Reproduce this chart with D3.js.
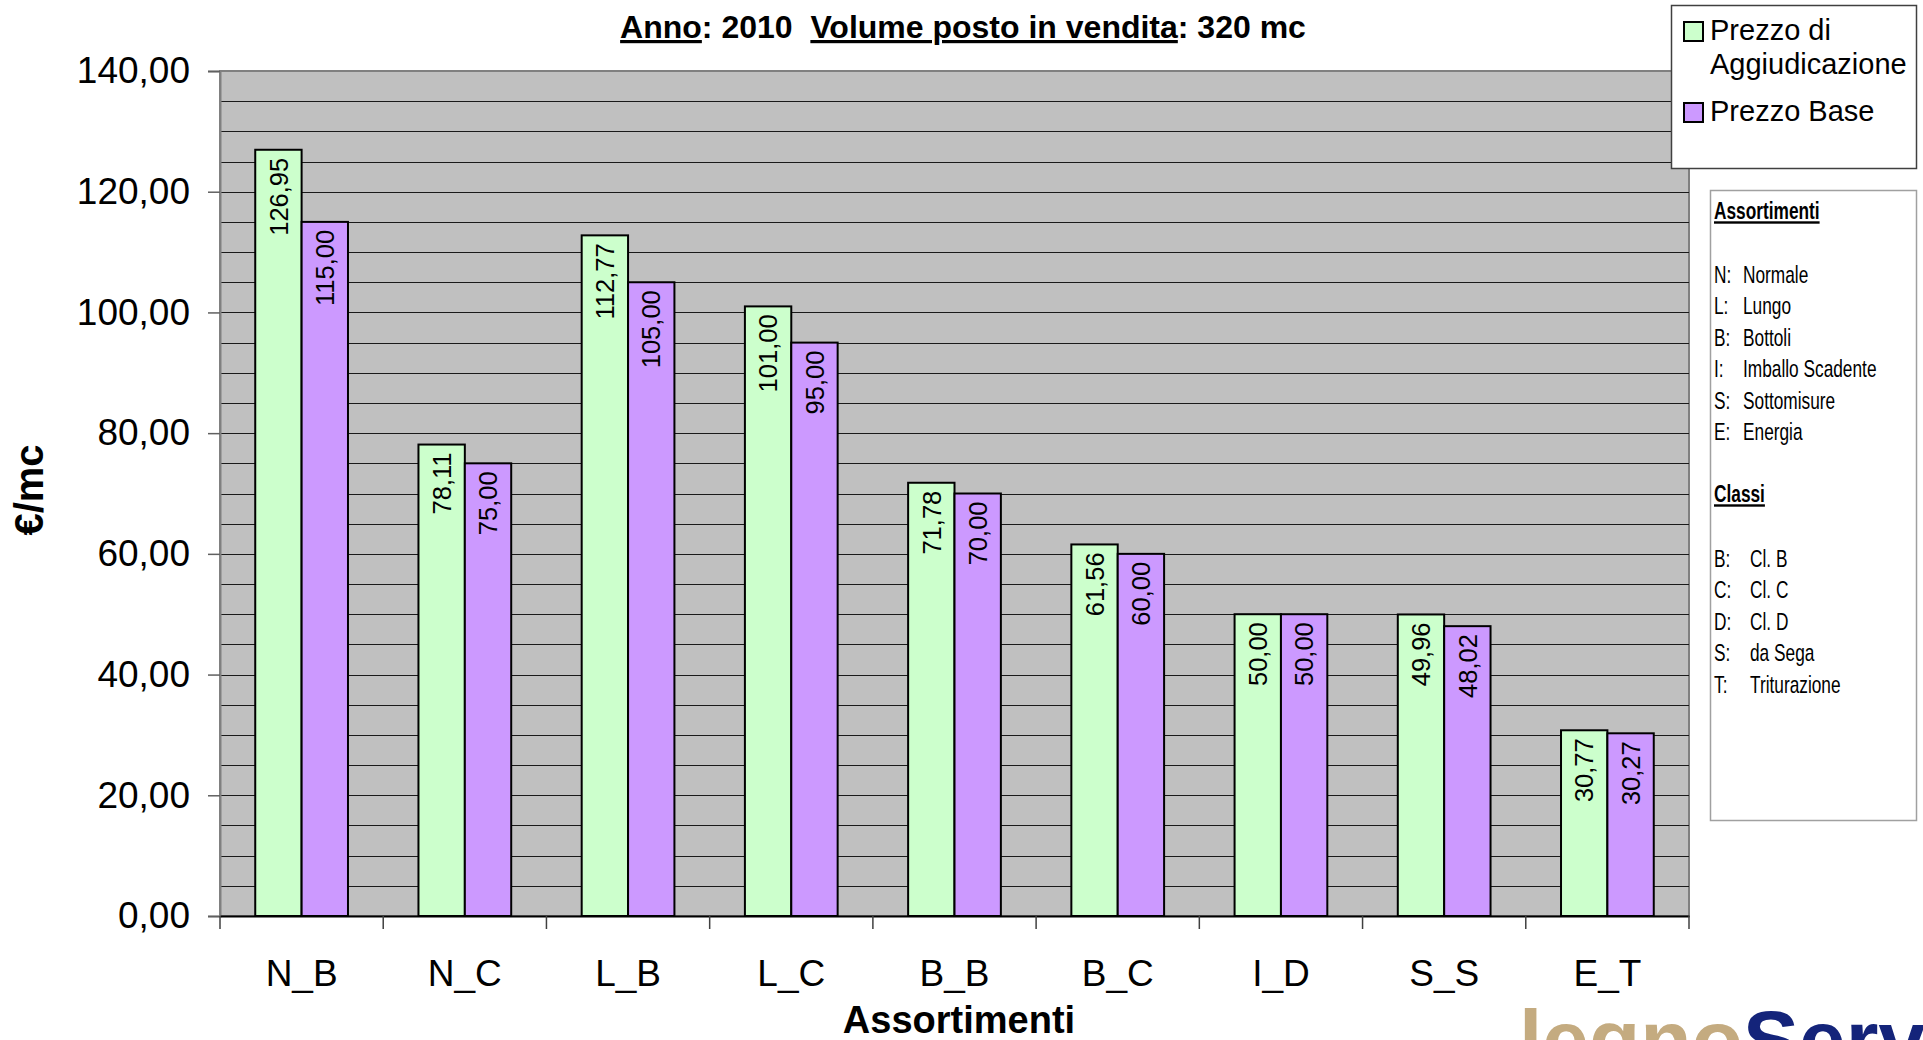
<!DOCTYPE html>
<html>
<head>
<meta charset="utf-8">
<script src="https://cdn.jsdelivr.net/npm/d3@7"></script>
<style>
  body { margin: 0; background: #fff; overflow: hidden; }
  svg { display: block; }
  text { font-family: "Liberation Sans", Arial, sans-serif; }
</style>
</head>
<body>
<div id="chart"></div>
<script>
// data
const categories = ['N_B', 'N_C', 'L_B', 'L_C', 'B_B', 'B_C', 'I_D', 'S_S', 'E_T'];
const seriesNames = ['Prezzo di Aggiudicazione', 'Prezzo Base'];
const prezzoAggiudicazione = [126.95, 78.11, 112.77, 101.00, 71.78, 61.56, 50.00, 49.96, 30.77];
const prezzoBase = [115.00, 75.00, 105.00, 95.00, 70.00, 60.00, 50.00, 48.02, 30.27];
const yTicks = [0, 20, 40, 60, 80, 100, 120, 140];
const assortimenti = [['N:', 'Normale'], ['L:', 'Lungo'], ['B:', 'Bottoli'], ['I:', 'Imballo Scadente'], ['S:', 'Sottomisure'], ['E:', 'Energia']];
const classi = [['B:', 'Cl. B'], ['C:', 'Cl. C'], ['D:', 'Cl. D'], ['S:', 'da Sega'], ['T:', 'Triturazione']];

const colors = ['#CCFFCC', '#CC99FF'];
const width = 1923, height = 1040;
const plot = { left: 220, right: 1689, top: 71, bottom: 916 };

const it = d3.formatLocale({ decimal: ',', thousands: '.', grouping: [3], currency: ['€', ''] });
const fmt = it.format('.2f');

const svg = d3.select('#chart').append('svg')
  .attr('width', width)
  .attr('height', height);

// scales
const x0 = d3.scaleBand()
  .domain(categories)
  .range([plot.left, plot.right]);
const x1 = d3.scaleBand()
  .domain(d3.range(seriesNames.length))
  .range([0, x0.bandwidth()])
  .paddingInner(0)
  .paddingOuter(0.76);
const y = d3.scaleLinear()
  .domain([0, 140])
  .range([plot.bottom, plot.top]);

// plot area
svg.append('rect')
  .attr('x', plot.left)
  .attr('y', plot.top)
  .attr('width', plot.right - plot.left)
  .attr('height', plot.bottom - plot.top)
  .attr('fill', '#C0C0C0')
  .attr('stroke', '#808080')
  .attr('stroke-width', 2);

// gridlines every 5
svg.append('g')
  .selectAll('line')
  .data(d3.range(5, 140, 5))
  .enter()
  .append('line')
  .attr('x1', plot.left)
  .attr('x2', plot.right)
  .attr('y1', d => Math.round(y(d)) + 0.5)
  .attr('y2', d => Math.round(y(d)) + 0.5)
  .attr('stroke', '#1a1a1a')
  .attr('stroke-width', 1);

// bars
const rows = categories.map((c, i) => ({ name: c, values: [prezzoAggiudicazione[i], prezzoBase[i]] }));

const groups = svg.append('g')
  .selectAll('g')
  .data(rows)
  .enter()
  .append('g')
  .attr('transform', d => `translate(${x0(d.name)},0)`);

groups.selectAll('rect')
  .data(d => d.values.map((v, s) => ({ v, s })))
  .enter()
  .append('rect')
  .attr('x', d => x1(d.s))
  .attr('y', d => y(d.v))
  .attr('width', x1.bandwidth())
  .attr('height', d => y(0) - y(d.v))
  .attr('fill', d => colors[d.s])
  .attr('stroke', '#000')
  .attr('stroke-width', 2);

groups.selectAll('text')
  .data(d => d.values.map((v, s) => ({ v, s })))
  .enter()
  .append('text')
  .attr('transform', d => `translate(${x1(d.s) + x1.bandwidth() / 2},${y(d.v) + 8}) rotate(-90)`)
  .attr('text-anchor', 'end')
  .attr('dy', '0.36em')
  .attr('font-size', 25.5)
  .attr('fill', '#000')
  .text(d => fmt(d.v));

// y axis
const yAxis = d3.axisLeft(y)
  .tickValues(yTicks)
  .tickSize(12)
  .tickPadding(18)
  .tickFormat(fmt);

const gy = svg.append('g')
  .attr('transform', `translate(${plot.left},0)`)
  .call(yAxis);
gy.select('.domain').attr('stroke', '#808080').attr('stroke-width', 2);
gy.selectAll('.tick line').attr('stroke', '#606060').attr('stroke-width', 1.5);
gy.selectAll('.tick text')
  .attr('font-size', 37)
  .attr('font-family', '"Liberation Sans", Arial, sans-serif')
  .attr('fill', '#000');

// x axis
const xAxis = d3.axisBottom(x0)
  .tickSize(0)
  .tickPadding(0);

const gx = svg.append('g')
  .attr('transform', `translate(0,${plot.bottom})`)
  .call(xAxis);
gx.select('.domain').attr('stroke', '#000').attr('stroke-width', 2);
gx.selectAll('.tick text')
  .attr('y', 70)
  .attr('dy', 0)
  .attr('font-size', 37)
  .attr('font-family', '"Liberation Sans", Arial, sans-serif')
  .attr('fill', '#000');

// category boundary ticks
gx.selectAll('.bound')
  .data(categories.map(c => x0(c)).concat([plot.right]))
  .enter()
  .append('line')
  .classed('bound', true)
  .attr('x1', d => d)
  .attr('x2', d => d)
  .attr('y1', 0)
  .attr('y2', 13)
  .attr('stroke', '#404040')
  .attr('stroke-width', 1.5);

// axis titles
svg.append('text')
  .attr('x', 959)
  .attr('y', 1033)
  .attr('text-anchor', 'middle')
  .attr('font-size', 38)
  .attr('font-weight', 'bold')
  .text('Assortimenti');

svg.append('text')
  .attr('transform', 'translate(43,490) rotate(-90)')
  .attr('text-anchor', 'middle')
  .attr('font-size', 40)
  .attr('font-weight', 'bold')
  .text('€/mc');

// title
const title = svg.append('text')
  .attr('x', 963)
  .attr('y', 38)
  .attr('text-anchor', 'middle')
  .attr('font-size', 32)
  .attr('font-weight', 'bold')
  .attr('xml:space', 'preserve');
title.append('tspan').attr('text-decoration', 'underline').text('Anno');
title.append('tspan').text(': 2010  ');
title.append('tspan').attr('text-decoration', 'underline').text('Volume posto in vendita');
title.append('tspan').text(': 320 mc');

// series legend
const legend = svg.append('g');
legend.append('rect')
  .attr('x', 1671.5)
  .attr('y', 5.5)
  .attr('width', 245)
  .attr('height', 163)
  .attr('fill', '#fff')
  .attr('stroke', '#404040')
  .attr('stroke-width', 1.5);

const legendItems = [
  { lines: ['Prezzo di', 'Aggiudicazione'], y: 22 },
  { lines: ['Prezzo Base'], y: 103 }
];
legendItems.forEach((item, i) => {
  legend.append('rect')
    .attr('x', 1684)
    .attr('y', item.y)
    .attr('width', 19)
    .attr('height', 19)
    .attr('fill', colors[i])
    .attr('stroke', '#000')
    .attr('stroke-width', 2);
  item.lines.forEach((l, j) => {
    legend.append('text')
      .attr('x', 1710)
      .attr('y', item.y + 18 + j * 34)
      .attr('font-size', 29)
      .attr('fill', '#000')
      .text(l);
  });
});

// abbreviations box
const box = svg.append('g');
box.append('rect')
  .attr('x', 1710.5)
  .attr('y', 190.5)
  .attr('width', 206)
  .attr('height', 630)
  .attr('fill', '#fff')
  .attr('stroke', '#a0a0a0')
  .attr('stroke-width', 1.5);

// condensed look, like Arial Narrow
const narrow = (x, yy, txt, bold) => {
  const t = box.append('text')
    .attr('transform', `translate(${x},${yy}) scale(0.72,1)`)
    .attr('font-size', 24)
    .attr('fill', '#000')
    .text(txt);
  if (bold) t.attr('font-weight', 'bold').attr('text-decoration', 'underline');
  return t;
};

narrow(1714, 219, 'Assortimenti', true);
assortimenti.forEach((d, i) => {
  narrow(1714, 283 + i * 31.4, d[0]);
  narrow(1743, 283 + i * 31.4, d[1]);
});
narrow(1714, 502, 'Classi', true);
classi.forEach((d, i) => {
  narrow(1714, 567 + i * 31.4, d[0]);
  narrow(1750, 567 + i * 31.4, d[1]);
});

// logo, cut by the bottom edge
const logo = svg.append('text')
  .attr('x', 1519)
  .attr('y', 1069)
  .attr('font-family', '"Liberation Serif", "Times New Roman", serif')
  .attr('font-size', 84)
  .attr('font-weight', 'bold');
logo.append('tspan').attr('fill', '#C4AB80').text('legno');
logo.append('tspan').attr('fill', '#14247A').text('Servizi');
</script>
</body>
</html>
